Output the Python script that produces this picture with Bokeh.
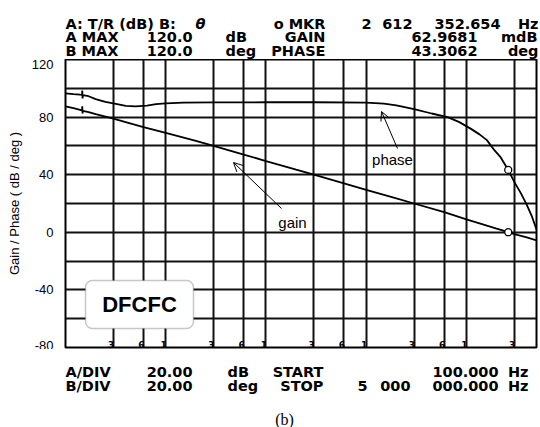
from bokeh.plotting import figure
from bokeh.layouts import column
from bokeh.models import FixedTicker, Label, Arrow, OpenHead, BoxAnnotation, Range1d
from bokeh.core.properties import value
from bokeh.embed import file_html
from bokeh.resources import INLINE

# ---------------- data ----------------
freq_gain = [100, 120, 140, 146, 147, 148, 149, 170, 200, 300, 450, 600, 1000, 2000, 3000,
             6000, 10000, 20000, 30000, 60000, 100000, 200000, 300000, 600000,
             1000000, 2000000, 2612352.654, 3000000, 4000000, 5000000]
gain_db = [87.5, 86.2, 85.0, 84.6, 87.5, 82.5, 84.4, 83.5, 82.0, 79.0, 75.5, 73.0, 69.0, 63.5, 60.0,
           54.0, 49.5, 43.5, 40.0, 34.0, 29.5, 23.5, 20.0, 14.0,
           9.0, 2.5, 0.06, -1.3, -3.6, -5.6]

freq_phase = [100, 120, 140, 146, 147, 148, 149, 170, 200, 250, 300, 400, 500, 650, 800, 1000,
              1500, 3000, 10000, 30000, 100000, 150000, 200000, 300000, 450000, 650000,
              850000, 1100000, 1350000, 1600000, 1900000, 2200000, 2612352.654, 3000000,
              3500000, 4000000, 4500000, 5000000]
phase_deg = [96.5, 96.0, 95.6, 95.5, 98.5, 93.0, 95.2, 94.5, 92.5, 90.5, 89.5, 87.8, 87.5, 88.0, 89.0, 89.5,
             90.0, 90.2, 90.3, 90.3, 90.0, 89.3, 88.2, 85.5, 82.5, 80.0,
             76.5, 72.0, 68.0, 64.0, 57.0, 52.0, 43.3, 35.0,
             27.0, 19.0, 11.0, 2.0]

marker_freq = [2612352.654]
marker_gain = [0.0629681]
marker_phase = [43.3062]

grid_freqs = [300, 600, 1000, 3000, 6000, 10000, 30000, 60000, 100000,
              300000, 600000, 1000000, 3000000]
grid_labels = ["3", "6", "1", "3", "6", "1", "3", "6", "1", "3", "6", "1", "3"]
y_ticks = [-80, -40, 0, 40, 80, 120]
y_tick_labels = ["-80", "-40", "0", "40", "80", "120"]
y_grid = [-60, -40, -20, 0, 20, 40, 60, 80, 100]

header_items = [
    # (text, x px, align, baseline px (page), style)
    ("A: T/R (dB) B:", 65, "left", 23, "bold"),
    ("\u03b8", 195, "left", 23, "bold italic"),
    ("o MKR", 325, "right", 23, "bold"),
    ("2", 361, "left", 23, "bold"),
    ("612", 412, "right", 23, "bold"),
    ("352.654", 500, "right", 23, "bold"),
    ("Hz", 538, "right", 23, "bold"),
    ("A MAX", 65, "left", 36.5, "bold"),
    ("120.0", 192, "right", 36.5, "bold"),
    ("dB", 225, "left", 36.5, "bold"),
    ("GAIN", 325, "right", 36.5, "bold"),
    ("62.9681", 477, "right", 36.5, "bold"),
    ("mdB", 537, "right", 36.5, "bold"),
    ("B MAX", 65, "left", 50, "bold"),
    ("120.0", 192, "right", 50, "bold"),
    ("deg", 225, "left", 50, "bold"),
    ("PHASE", 325, "right", 50, "bold"),
    ("43.3062", 477, "right", 50, "bold"),
    ("deg", 538, "right", 50, "bold"),
]
footer_items = [
    ("A/DIV", 65, "left", 371, "bold"),
    ("20.00", 192, "right", 371, "bold"),
    ("dB", 227, "left", 371, "bold"),
    ("START", 323, "right", 371, "bold"),
    ("100.000", 498, "right", 371, "bold"),
    ("Hz", 528, "right", 371, "bold"),
    ("B/DIV", 65, "left", 385, "bold"),
    ("20.00", 192, "right", 385, "bold"),
    ("deg", 227, "left", 385, "bold"),
    ("STOP", 323, "right", 385, "bold"),
    ("5", 357, "left", 385, "bold"),
    ("000", 410, "right", 385, "bold"),
    ("000.000", 498, "right", 385, "bold"),
    ("Hz", 528, "right", 385, "bold"),
]

# ---------------- layout ----------------
W = 540
HEAD_H = 59
MAIN_H = 290
FOOT_H = 427 - HEAD_H - MAIN_H
BL, BR, BT, BB = 65, 4, 0, 2
F_MIN, F_MAX = 100, 5e6
Y_MIN, Y_MAX = -80, 120
FW = W - BL - BR
FH = MAIN_H - BT - BB
FRAME_TOP = HEAD_H + BT  # page y of frame top


def fx(px):
    return F_MIN * (F_MAX / F_MIN) ** ((px - BL) / FW)


def fy(py):
    return Y_MAX - (py - FRAME_TOP) / FH * (Y_MAX - Y_MIN)


def text_strip(height, items, y0):
    f = figure(width=W, height=height, x_range=Range1d(0, W), y_range=Range1d(height, 0),
               output_backend="svg", toolbar_location=None, min_border=0,
               x_axis_location=None, y_axis_location=None, frame_align=False)
    f.grid.visible = False
    f.outline_line_color = None
    f.background_fill_color = "white"
    f.border_fill_color = "white"
    for t, px, al, py, st in items:
        f.text(x=[px], y=[py - y0], text=[t], text_align=al, text_baseline="alphabetic",
               text_font=value("DejaVu Sans"), text_font_style=st, text_font_size="14.5px",
               text_color="black")
    return f


head = text_strip(HEAD_H, header_items, 0)
foot = text_strip(FOOT_H, footer_items, HEAD_H + MAIN_H)
foot.text(x=[284], y=[419 - HEAD_H - MAIN_H], text=["(b)"], text_align="center",
          text_baseline="alphabetic", text_font=value("Liberation Serif"),
          text_font_size="16px", text_color="black")

p = figure(width=W, height=MAIN_H, x_axis_type="log",
           x_range=Range1d(F_MIN, F_MAX), y_range=Range1d(Y_MIN, Y_MAX),
           output_backend="svg", toolbar_location=None, x_axis_location=None,
           frame_align=False,
           min_border_left=BL, min_border_right=BR, min_border_top=BT, min_border_bottom=BB)

p.background_fill_color = "white"
p.border_fill_color = "white"
p.outline_line_color = "black"
p.outline_line_width = 2

p.xgrid.ticker = FixedTicker(ticks=grid_freqs)
p.xgrid.grid_line_color = "#111111"
p.xgrid.grid_line_width = 2
p.ygrid.ticker = FixedTicker(ticks=y_grid)
p.ygrid.grid_line_color = "#111111"
p.ygrid.grid_line_width = 2

yax = p.yaxis[0]
yax.ticker = FixedTicker(ticks=y_ticks)
yax.major_label_overrides = {t: s for t, s in zip(y_ticks, y_tick_labels)}
yax.major_tick_line_color = None
yax.minor_tick_line_color = None
yax.axis_line_color = None
yax.major_tick_out = 0
yax.major_tick_in = 0
yax.major_label_standoff = 12
yax.major_label_text_font = "Liberation Sans"
yax.major_label_text_font_size = "13px"
yax.major_label_text_color = "black"
yax.axis_label = "Gain / Phase ( dB / deg )"
yax.axis_label_text_font = "Liberation Sans"
yax.axis_label_text_font_size = "13px"
yax.axis_label_text_font_style = "normal"
yax.axis_label_text_color = "black"
yax.axis_label_standoff = 7

# traces
p.line(freq_gain, gain_db, line_color="black", line_width=1.8)
p.line(freq_phase, phase_deg, line_color="black", line_width=1.8)
p.scatter(marker_freq, marker_gain, marker="circle", size=7, fill_color="white",
          line_color="black", line_width=1.3)
p.scatter(marker_freq, marker_phase, marker="circle", size=7, fill_color="white",
          line_color="black", line_width=1.3)

# grid labels along the bottom of the frame
for f, t in zip(grid_freqs, grid_labels):
    p.add_layout(Label(x=f, y=fy(343.5), text=t, text_align="right", x_offset=1,
                       text_baseline="alphabetic", text_font="DejaVu Sans",
                       text_font_style="bold", text_font_size="9px", text_color="black"))

# annotations
p.add_layout(Arrow(end=OpenHead(size=9, line_width=1, line_color="black"),
                   x_start=fx(397), y_start=fy(148), x_end=fx(381), y_end=fy(111),
                   line_width=1, line_color="black"))
p.add_layout(Label(x=fx(392), y=fy(159), text="phase", text_align="center",
                   text_baseline="middle", text_font="Liberation Sans",
                   text_font_size="15px", text_color="black"))
p.add_layout(Arrow(end=OpenHead(size=9, line_width=1, line_color="black"),
                   x_start=fx(281), y_start=fy(208), x_end=fx(233), y_end=fy(162),
                   line_width=1, line_color="black"))
p.add_layout(Label(x=fx(292), y=fy(222), text="gain", text_align="center",
                   text_baseline="middle", text_font="Liberation Sans",
                   text_font_size="15px", text_color="black"))

p.add_layout(BoxAnnotation(left=fx(85), right=fx(193), top=fy(280), bottom=fy(328),
                           fill_color="white", fill_alpha=1.0, line_color="#444444",
                           line_width=1.5, border_radius=7))
p.add_layout(Label(x=fx(139), y=fy(304), text="DFCFC", text_align="center",
                   text_baseline="middle", text_font="Liberation Sans",
                   text_font_style="bold", text_font_size="22px", text_color="black"))

layout = column(head, p, foot, spacing=0)
open("out.html", "w").write(file_html(layout, INLINE))
